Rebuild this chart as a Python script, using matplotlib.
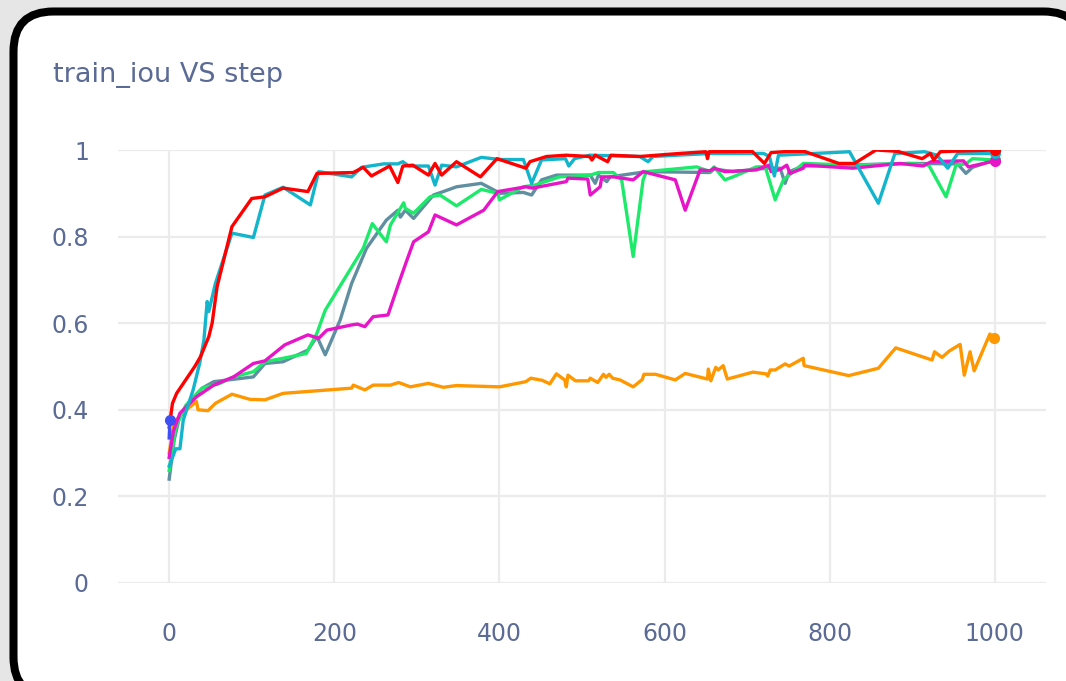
import numpy as np
import matplotlib
matplotlib.use("Agg")
import matplotlib.pyplot as plt
from matplotlib.patches import FancyBboxPatch
from matplotlib.transforms import IdentityTransform

plt.rcParams['font.family'] = ['DejaVu Sans']

# (step, train_iou)
red = [(0, 0.36), (4, 0.415), (9, 0.438), (31, 0.50), (38, 0.523), (48, 0.569), (52, 0.60),
       (58, 0.684), (76, 0.823), (100, 0.888), (116, 0.892), (138, 0.912), (168, 0.904),
       (179, 0.946), (223, 0.948), (235, 0.96), (245, 0.94), (267, 0.963), (277, 0.925),
       (283, 0.963), (295, 0.965), (314, 0.942), (322, 0.969), (330, 0.942), (348, 0.973),
       (377, 0.938), (397, 0.98), (432, 0.958), (437, 0.973), (457, 0.985), (481, 0.988),
       (509, 0.985), (512, 0.977), (516, 0.988), (531, 0.973), (535, 0.988), (570, 0.985),
       (618, 0.992), (650, 0.996), (652, 0.98), (654, 0.996), (706, 0.997), (721, 0.969),
       (729, 0.994), (751, 0.997), (769, 0.997), (811, 0.969), (830, 0.969), (856, 1.0),
       (882, 0.997), (912, 0.98), (922, 0.992), (926, 0.977), (934, 0.996), (945, 0.997),
       (1000, 1.0)]

cyan = [(0, 0.27), (8, 0.31), (13, 0.31), (17, 0.376), (29, 0.446), (37, 0.508), (42, 0.56),
        (46, 0.65), (48, 0.627), (56, 0.692), (76, 0.808), (102, 0.798), (116, 0.896),
        (138, 0.914), (171, 0.873), (181, 0.95), (221, 0.938), (233, 0.96), (260, 0.968),
        (277, 0.968), (283, 0.973), (290, 0.963), (314, 0.963), (322, 0.919), (330, 0.965),
        (348, 0.961), (378, 0.983), (401, 0.978), (429, 0.978), (439, 0.923), (451, 0.977),
        (480, 0.98), (484, 0.963), (491, 0.98), (509, 0.988), (570, 0.985), (580, 0.973),
        (586, 0.985), (655, 0.992), (720, 0.992), (727, 0.985), (733, 0.94), (738, 0.988),
        (760, 0.99), (824, 0.996), (859, 0.877), (879, 0.992), (915, 0.996), (930, 0.988),
        (943, 0.958), (955, 0.992), (1000, 0.992)]

green = [(0, 0.26), (8, 0.36), (20, 0.41), (40, 0.45), (60, 0.46), (78, 0.476), (102, 0.488),
         (116, 0.511), (138, 0.519), (166, 0.53), (179, 0.577), (189, 0.63), (235, 0.773),
         (246, 0.83), (254, 0.81), (263, 0.788), (268, 0.827), (284, 0.878), (286, 0.865),
         (296, 0.854), (316, 0.892), (328, 0.896), (348, 0.871), (378, 0.909), (398, 0.9),
         (400, 0.885), (429, 0.915), (443, 0.919), (473, 0.938), (510, 0.942), (520, 0.948),
         (538, 0.948), (548, 0.931), (562, 0.754), (574, 0.931), (578, 0.95), (639, 0.961),
         (655, 0.95), (660, 0.961), (673, 0.931), (683, 0.938), (711, 0.961), (722, 0.961),
         (734, 0.885), (744, 0.931), (768, 0.969), (828, 0.965), (897, 0.969), (920, 0.965),
         (941, 0.892), (953, 0.965), (965, 0.968), (973, 0.98), (1000, 0.977)]

slate = [(0, 0.24), (6, 0.33), (12, 0.38), (25, 0.42), (40, 0.45), (54, 0.465), (102, 0.476),
         (116, 0.507), (138, 0.511), (168, 0.538), (179, 0.569), (189, 0.527), (207, 0.607),
         (221, 0.692), (239, 0.773), (263, 0.838), (277, 0.861), (280, 0.845), (286, 0.861),
         (296, 0.842), (320, 0.896), (332, 0.904), (348, 0.915), (378, 0.923), (401, 0.9),
         (429, 0.902), (439, 0.896), (451, 0.931), (469, 0.942), (510, 0.942), (516, 0.923),
         (520, 0.942), (530, 0.927), (534, 0.938), (578, 0.95), (655, 0.948), (660, 0.956),
         (683, 0.95), (724, 0.958), (740, 0.958), (746, 0.923), (751, 0.95), (768, 0.963),
         (900, 0.969), (955, 0.968), (965, 0.946), (973, 0.96), (1000, 0.977)]

magenta = [(0, 0.29), (5, 0.35), (13, 0.392), (33, 0.43), (54, 0.457), (78, 0.476),
           (102, 0.507), (116, 0.513), (140, 0.55), (168, 0.573), (181, 0.565), (191, 0.584),
           (221, 0.596), (228, 0.598), (237, 0.592), (247, 0.615), (265, 0.619), (278, 0.692),
           (288, 0.746), (296, 0.788), (314, 0.811), (322, 0.85), (348, 0.827), (381, 0.861),
           (398, 0.904), (432, 0.915), (440, 0.912), (481, 0.927), (483, 0.935), (507, 0.933),
           (510, 0.896), (522, 0.915), (524, 0.938), (538, 0.938), (562, 0.931), (574, 0.95),
           (613, 0.931), (625, 0.861), (643, 0.954), (655, 0.952), (660, 0.958), (673, 0.95),
           (711, 0.954), (716, 0.958), (727, 0.965), (729, 0.95), (740, 0.955), (748, 0.965),
           (752, 0.946), (768, 0.958), (770, 0.965), (828, 0.958), (885, 0.969), (913, 0.963),
           (923, 0.973), (962, 0.975), (968, 0.961), (1000, 0.975)]

orange = [(0, 0.30), (5, 0.36), (10, 0.38), (21, 0.40), (33, 0.419), (35, 0.40), (47, 0.398),
          (56, 0.415), (76, 0.436), (98, 0.424), (116, 0.423), (138, 0.438), (221, 0.45),
          (223, 0.457), (237, 0.446), (247, 0.457), (268, 0.457), (278, 0.463), (292, 0.453),
          (314, 0.461), (332, 0.452), (348, 0.456), (400, 0.453), (432, 0.465), (438, 0.473),
          (452, 0.468), (461, 0.46), (469, 0.483), (479, 0.469), (481, 0.453), (483, 0.48),
          (492, 0.467), (508, 0.467), (510, 0.473), (519, 0.463), (526, 0.482), (529, 0.475),
          (533, 0.482), (537, 0.473), (546, 0.469), (562, 0.453), (573, 0.47), (575, 0.482),
          (589, 0.482), (613, 0.469), (625, 0.484), (652, 0.471), (653, 0.494), (656, 0.467),
          (662, 0.498), (665, 0.492), (671, 0.502), (676, 0.471), (707, 0.487), (723, 0.483),
          (725, 0.478), (728, 0.492), (734, 0.492), (746, 0.506), (751, 0.501), (768, 0.519),
          (769, 0.502), (823, 0.479), (859, 0.496), (880, 0.543), (924, 0.515), (927, 0.534),
          (936, 0.521), (945, 0.536), (958, 0.551), (963, 0.48), (970, 0.534), (975, 0.49),
          (994, 0.575), (999, 0.565)]

blue = [(0, 0.335), (1, 0.376)]

series = [
    (orange, '#ff9800'),
    (slate, '#5f8fa1'),
    (green, '#1de96b'),
    (magenta, '#e815c8'),
    (cyan, '#12b5cb'),
    (red, '#ff0000'),
    (blue, '#3d4ff5'),
]

text_color = '#5b6b96'

fig = plt.figure(figsize=(10.66, 6.81), dpi=100, facecolor='#e6e6e6')

# white card with thick black rounded border (pixel coords)
card = FancyBboxPatch((13.5, -16), 1070, 685.5,
                      boxstyle="round,pad=0,rounding_size=40",
                      facecolor='white', edgecolor='black', linewidth=5.8,
                      transform=IdentityTransform(), zorder=-1)
fig.add_artist(card)

ax = fig.add_axes([118 / 1066, 98 / 681, 928 / 1066, 433 / 681])
ax.set_facecolor('none')

for data, color in series:
    steps = [p[0] for p in data]
    vals = [p[1] for p in data]
    ax.plot(steps, vals, color=color, linewidth=2.4, solid_joinstyle='round',
            marker='o', markevery=[len(steps) - 1], markersize=7)

ax.set_xlim(-62, 1062)
ax.set_ylim(0, 1)
ax.set_xticks([0, 200, 400, 600, 800, 1000])
ax.set_yticks([0, 0.2, 0.4, 0.6, 0.8, 1])
ax.set_yticklabels(['0', '0.2', '0.4', '0.6', '0.8', '1'])
ax.grid(True, color='#ebebeb', linewidth=1.6)
ax.set_axisbelow(True)
for s in ax.spines.values():
    s.set_visible(False)
ax.tick_params(axis='both', length=0, labelsize=17, colors=text_color)
ax.tick_params(axis='y', pad=21)
ax.tick_params(axis='x', pad=28)

fig.text(53 / 1066, 1 - 75 / 681, 'train_iou VS step', fontsize=19.5,
         color=text_color, ha='left', va='center')

fig.savefig('out.png', dpi=100, facecolor=fig.get_facecolor())
